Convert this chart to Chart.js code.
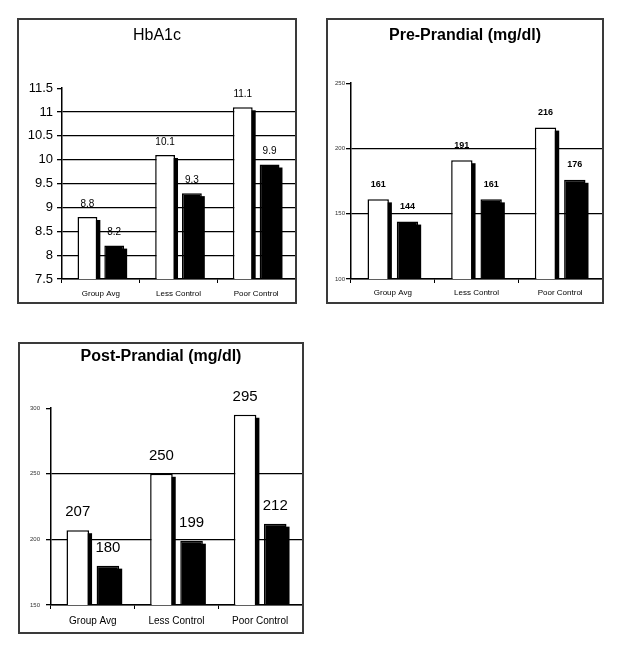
<!DOCTYPE html>
<html>
<head>
<meta charset="utf-8">
<script src="https://cdn.jsdelivr.net/npm/chart.js@4/dist/chart.umd.min.js"></script>
<style>
  html, body { margin: 0; padding: 0; background: #fff; }
  body { width: 638px; height: 655px; position: relative; overflow: hidden; }
  .panel { position: absolute; border: 2px solid #3a3a3a; background: #fff; }
  .panel canvas { display: block; }
</style>
</head>
<body>
<div class="panel" style="left:17px;top:18px;width:276px;height:282px;"><canvas id="c1" width="276" height="282" style="width:276px;height:282px;"></canvas></div>
<div class="panel" style="left:326px;top:18px;width:274px;height:282px;"><canvas id="c2" width="274" height="282" style="width:274px;height:282px;"></canvas></div>
<div class="panel" style="left:18px;top:342px;width:282px;height:288px;"><canvas id="c3" width="282" height="288" style="width:282px;height:288px;"></canvas></div>
<script>
// ---------- data ----------
const categories = ['Group Avg', 'Less Control', 'Poor Control'];

const hbTitle = 'HbA1c';
const hbFirst = [8.8, 10.1, 11.1];
const hbSecond = [8.2, 9.3, 9.9];
const hbTicks = [7.5, 8, 8.5, 9, 9.5, 10, 10.5, 11, 11.5];

const preTitle = 'Pre-Prandial (mg/dl)';
const preFirst = [161, 191, 216];
const preSecond = [144, 161, 176];
const preTicks = [100, 150, 200, 250];

const postTitle = 'Post-Prandial (mg/dl)';
const postFirst = [207, 250, 295];
const postSecond = [180, 199, 212];
const postTicks = [150, 200, 250, 300];

// ---------- plugins ----------
// drop shadow behind each bar (offset right/down), using the bars' own geometry
const shadowPlugin = {
  id: 'barShadow',
  beforeDatasetsDraw(chart) {
    const ctx = chart.ctx;
    const a = chart.chartArea;
    ctx.save();
    ctx.beginPath();
    ctx.rect(a.left, a.top, a.right - a.left, a.bottom - a.top);
    ctx.clip();
    ctx.fillStyle = '#000';
    chart.data.datasets.forEach((ds, di) => {
      const meta = chart.getDatasetMeta(di);
      meta.data.forEach((bar) => {
        const p = bar.getProps(['x', 'y', 'base', 'width'], true);
        const left = p.x - p.width / 2;
        ctx.fillRect(left + 3, p.y + 3, p.width, p.base - p.y);
      });
    });
    ctx.restore();
  }
};

const valueLabelPlugin = {
  id: 'valueLabels',
  afterDatasetsDraw(chart, args, opts) {
    const ctx = chart.ctx;
    ctx.save();
    ctx.fillStyle = '#000';
    ctx.font = opts.font;
    ctx.textAlign = 'center';
    ctx.textBaseline = 'middle';
    chart.data.datasets.forEach((ds, di) => {
      const meta = chart.getDatasetMeta(di);
      meta.data.forEach((bar, i) => {
        const v = ds.data[i];
        const txt = opts.decimals ? v.toFixed(opts.decimals) : String(v);
        ctx.fillText(txt, bar.x, bar.y - opts.offset);
      });
    });
    ctx.restore();
  }
};

function build(id, p) {
  const tMin = p.ticks[0], tMax = p.ticks[p.ticks.length - 1];
  return new Chart(document.getElementById(id), {
    type: 'bar',
    data: {
      labels: categories,
      datasets: [
        { label: 'First', data: p.first, backgroundColor: '#fff', borderColor: '#000', borderWidth: 1.5,
          categoryPercentage: p.cp, barPercentage: p.bp },
        { label: 'Second', data: p.second, backgroundColor: '#000', borderColor: '#000', borderWidth: 1.5,
          categoryPercentage: p.cp, barPercentage: p.bp }
      ]
    },
    options: {
      responsive: false,
      animation: false,
      devicePixelRatio: 1,
      layout: { padding: { left: 0, right: 0, top: 0, bottom: 0 } },
      plugins: {
        legend: { display: false },
        tooltip: { enabled: false },
        title: {
          display: true,
          text: p.title,
          color: '#000',
          font: { family: 'Liberation Sans', size: 16, weight: p.titleWeight, lineHeight: 1.2 },
          padding: { top: p.titleTop, bottom: p.titleBottom }
        },
        valueLabels: { font: p.labelFont, offset: p.labelOffset, decimals: p.decimals }
      },
      scales: {
        x: {
          offset: true,
          grid: { display: true, drawOnChartArea: false, drawTicks: true, tickLength: 4, color: '#000', offset: true },
          border: { display: true, color: '#000', width: 1.5 },
          ticks: { color: '#000', font: { family: 'Liberation Sans', size: p.xFont }, padding: p.xPad,
                   maxRotation: 0, minRotation: 0, autoSkip: false },
          afterFit(s) { s.height = p.xHeight; }
        },
        y: {
          min: tMin,
          max: tMax,
          afterBuildTicks(s) { s.ticks = p.ticks.map(v => ({ value: v })); },
          grid: {
            color: (c) => (c.tick && c.tick.value === tMax) ? 'rgba(0,0,0,0)' : '#000',
            tickColor: '#000',
            lineWidth: 1.3,
            drawTicks: true,
            tickLength: 5
          },
          border: { display: true, color: '#000', width: 1.5 },
          ticks: { color: p.yColor, font: { family: 'Liberation Sans', size: p.yFont }, padding: p.yPad,
                   callback: (v) => String(v) },
          afterFit(s) { s.width = p.yWidth; }
        }
      }
    },
    plugins: [shadowPlugin, valueLabelPlugin]
  });
}

build('c1', {
  title: hbTitle, titleWeight: 'normal', titleTop: 6, titleBottom: 43,
  first: hbFirst, second: hbSecond, ticks: hbTicks,
  cp: 0.69, bp: 0.74,
  xFont: 8, xPad: 6, xHeight: 23,
  yFont: 13, yPad: 4, yWidth: 43, yColor: '#000',
  labelFont: '10px "Liberation Sans"', labelOffset: 13, decimals: 1
});

build('c2', {
  title: preTitle, titleWeight: 'bold', titleTop: 6, titleBottom: 38,
  first: preFirst, second: preSecond, ticks: preTicks,
  cp: 0.70, bp: 0.73,
  xFont: 8, xPad: 5, xHeight: 23,
  yFont: 6, yPad: 1, yWidth: 23, yColor: '#333',
  labelFont: 'bold 9px "Liberation Sans"', labelOffset: 15, decimals: 0
});

build('c3', {
  title: postTitle, titleWeight: 'bold', titleTop: 3, titleBottom: 42,
  first: postFirst, second: postSecond, ticks: postTicks,
  cp: 0.72, bp: 0.75,
  xFont: 10, xPad: 6, xHeight: 27,
  yFont: 6, yPad: 6, yWidth: 31, yColor: '#333',
  labelFont: '15px "Liberation Sans"', labelOffset: 18, decimals: 0
});
</script>
</body>
</html>
